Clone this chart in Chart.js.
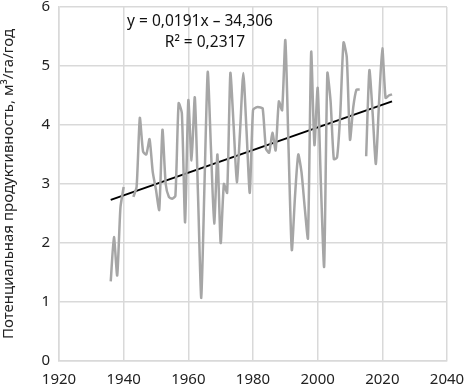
<!DOCTYPE html>
<html>
<head>
<meta charset="utf-8">
<script src="https://cdn.jsdelivr.net/npm/chart.js@4"></script>
<style>
  html, body { margin: 0; padding: 0; background: #fff; }
</style>
</head>
<body>
<canvas id="chart" width="465" height="389"></canvas>
<script>
const firstYear = 1936
const productivity = [
    1.35, 2.1, 1.45, 2.6, 2.95, null, null, 2.78, 2.95, 4.12,
    3.55, 3.5, 3.76, 3.2, 2.9, 2.56, 3.92, 3.0, 2.78, 2.75,
    2.8, 4.37, 4.2, 2.35, 4.42, 3.4, 4.47, 2.8, 1.07, 3.0,
    4.9, 3.6, 2.33, 3.5, 2.0, 3.0, 2.85, 4.88, 4.0, 3.03,
    3.9, 4.88, 3.9, 2.85, 4.25, 4.3, 4.3, 4.28, 3.6, 3.53,
    3.87, 3.57, 4.4, 4.25, 5.44, 3.6, 1.88, 2.8, 3.5, 3.2,
    2.6, 2.08, 5.24, 3.66, 4.63, 3.0, 1.6, 4.88, 4.4, 3.42,
    3.45, 4.2, 5.4, 5.15, 3.75, 4.3, 4.6, 4.6, null, 3.47,
    4.93, 4.2, 3.34, 4.4, 5.3, 4.46, 4.5, 4.52
]
const years = productivity.map((v, i) => firstYear + i)

const trendYears = [1936, 2023]
const trendValues = [2.73, 4.40]

const equationText = "y = 0,0191x \u2013 34,306"
const r2Text = "R\u00b2 = 0,2317"
const yTitle = "Потенциальная продуктивность, м\u00b3/га/год"

const FONT = "'Noto Sans', 'Open Sans', sans-serif"

// trendline equation, drawn like the Excel label
const equationLabel = {
    id: "equationLabel",
    afterDraw(chart) {
        const ctx = chart.ctx
        ctx.save()
        ctx.fillStyle = "#111"
        ctx.font = "15.5px " + FONT
        ctx.textAlign = "center"
        ctx.textBaseline = "middle"
        ctx.fillText(equationText, 200, 22)
        ctx.fillText(r2Text, 205, 43)
        ctx.restore()
    }
}

const context = document.getElementById("chart").getContext("2d")
const myChart = new Chart(context, {
    type: "line",
    data: {
        datasets: [{
            label: "productivity",
            data: years.map((y, i) => ({ x: y, y: productivity[i] })),
            borderColor: "#a6a6a6",
            backgroundColor: "#a6a6a6",
            borderWidth: 2.5,
            pointRadius: 0,
            tension: 0.2,
            spanGaps: false
        }, {
            label: "trend",
            data: trendYears.map((y, i) => ({ x: y, y: trendValues[i] })),
            borderColor: "#000",
            backgroundColor: "#000",
            borderWidth: 2,
            pointRadius: 0,
            tension: 0
        }]
    },
    options: {
        responsive: false,
        animation: false,
        layout: {
            padding: { top: 7, right: 18, left: 0, bottom: 0 }
        },
        plugins: {
            legend: { display: false },
            tooltip: { enabled: false }
        },
        scales: {
            x: {
                type: "linear",
                min: 1920,
                max: 2040,
                afterFit: s => { s.height = 28; s.paddingLeft = 0; s.paddingRight = 0 },
                ticks: {
                    stepSize: 20,
                    color: "#222",
                    font: { family: FONT, size: 15 },
                    padding: 10,
                    callback: v => String(v)
                },
                grid: { color: "#d9d9d9", lineWidth: 1.5, drawTicks: false },
                border: { color: "#d9d9d9", width: 1.5 }
            },
            y: {
                min: 0,
                max: 6,
                afterFit: s => { s.width = 59; s.paddingTop = 0; s.paddingBottom = 0 },
                ticks: {
                    stepSize: 1,
                    color: "#222",
                    font: { family: FONT, size: 15 },
                    padding: 9
                },
                grid: { color: "#d9d9d9", lineWidth: 1.5, drawTicks: false },
                border: { color: "#d9d9d9", width: 1.5 },
                title: {
                    display: true,
                    text: yTitle,
                    color: "#222",
                    font: { family: FONT, size: 15 },
                    padding: { top: 0, bottom: 8 }
                }
            }
        }
    },
    plugins: [equationLabel]
})
</script>
</body>
</html>
